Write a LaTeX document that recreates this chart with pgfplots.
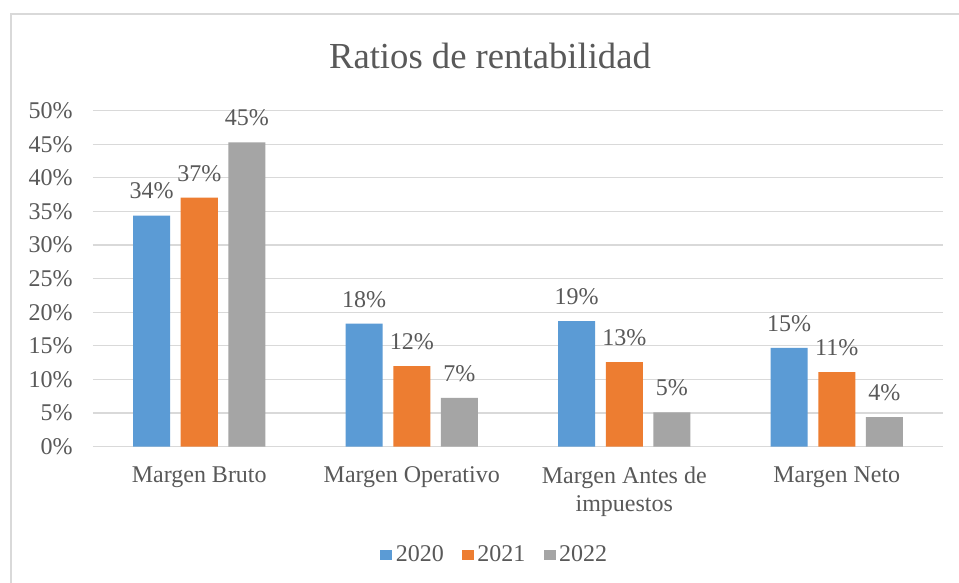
\documentclass[border=0pt]{standalone}
\usepackage{fontspec}
\setmainfont{Liberation Serif}
\usepackage{pgfplots}
\pgfplotsset{compat=1.18}
\definecolor{cA}{HTML}{5B9BD5}
\definecolor{cB}{HTML}{ED7D31}
\definecolor{cC}{HTML}{A5A5A5}
\definecolor{gridc}{HTML}{D9D9D9}
\definecolor{textc}{HTML}{595959}
\newcommand{\fs}{\fontsize{18}{21}\selectfont}
\begin{document}
\begin{tikzpicture}
\useasboundingbox (-69.75pt,-102.2pt) rectangle (649.5pt,335pt);
\clip (-69.75pt,-102.2pt) rectangle (649.5pt,335pt);
\fill[white] (-69.75pt,-102.2pt) rectangle (649.5pt,335pt);
\draw[line width=1.5pt, gridc] (-61.5pt,-130pt) rectangle (680pt,324.5pt);
\begin{axis}[
  at={(0pt,0pt)}, anchor=south west,
  scale only axis, width=637.5pt, height=252pt,
  ybar=7.9pt, bar width=27.75pt,
  xmin=-0.5, xmax=3.5, ymin=0, ymax=50,
  xtick={0,1,2,3},
  xticklabels={Margen Bruto, Margen Operativo, {Margen Antes de\\impuestos}, Margen Neto},
  ytick={0,5,...,50},
  yticklabel={\pgfmathprintnumber{\tick}\%},
  /pgf/number format/assume math mode=true,
  ymajorgrids, grid style={draw=gridc, line width=0.9pt},
  axis line style={draw=none},
  tick style={draw=none},
  major tick length=0pt,
  yticklabel style={font=\fs, text=textc, anchor=east, inner sep=0pt, xshift=-15pt},
  xticklabel style={font=\fs, text=textc, align=center, anchor=north, inner sep=0pt, yshift=-15pt},
  point meta=y,
  nodes near coords={\pgfmathprintnumber[fixed,precision=0]{\pgfplotspointmeta}\%},
  nodes near coords style={font=\fs, text=textc, anchor=south, inner sep=0pt, yshift=12pt},
  title={Ratios de rentabilidad},
  title style={at={(0.467,1)}, anchor=base, yshift=25.8pt, font=\fontsize{27.5}{30}\selectfont, text=textc, inner sep=0pt},
  legend columns=3,
  legend style={at={(0.4735,-0.321)}, anchor=center, draw=none, fill=none, font=\fs, text=textc,
    nodes={inner sep=2.6pt},
    /tikz/every even column/.append style={column sep=11pt}},
  legend image code/.code={\fill[#1] (0pt,-3.75pt) rectangle (9pt,3.75pt);},
]
\addplot[fill=cA, draw=none] coordinates {(0,34.4) (1,18.3) (2,18.7) (3,14.7)};
\addplot[fill=cB, draw=none] coordinates {(0,37.05) (1,12.0) (2,12.6) (3,11.1)};
\addplot[fill=cC, draw=none] coordinates {(0,45.3) (1,7.25) (2,5.1) (3,4.4)};
\legend{2020,2021,2022}
\end{axis}
\end{tikzpicture}
\end{document}
